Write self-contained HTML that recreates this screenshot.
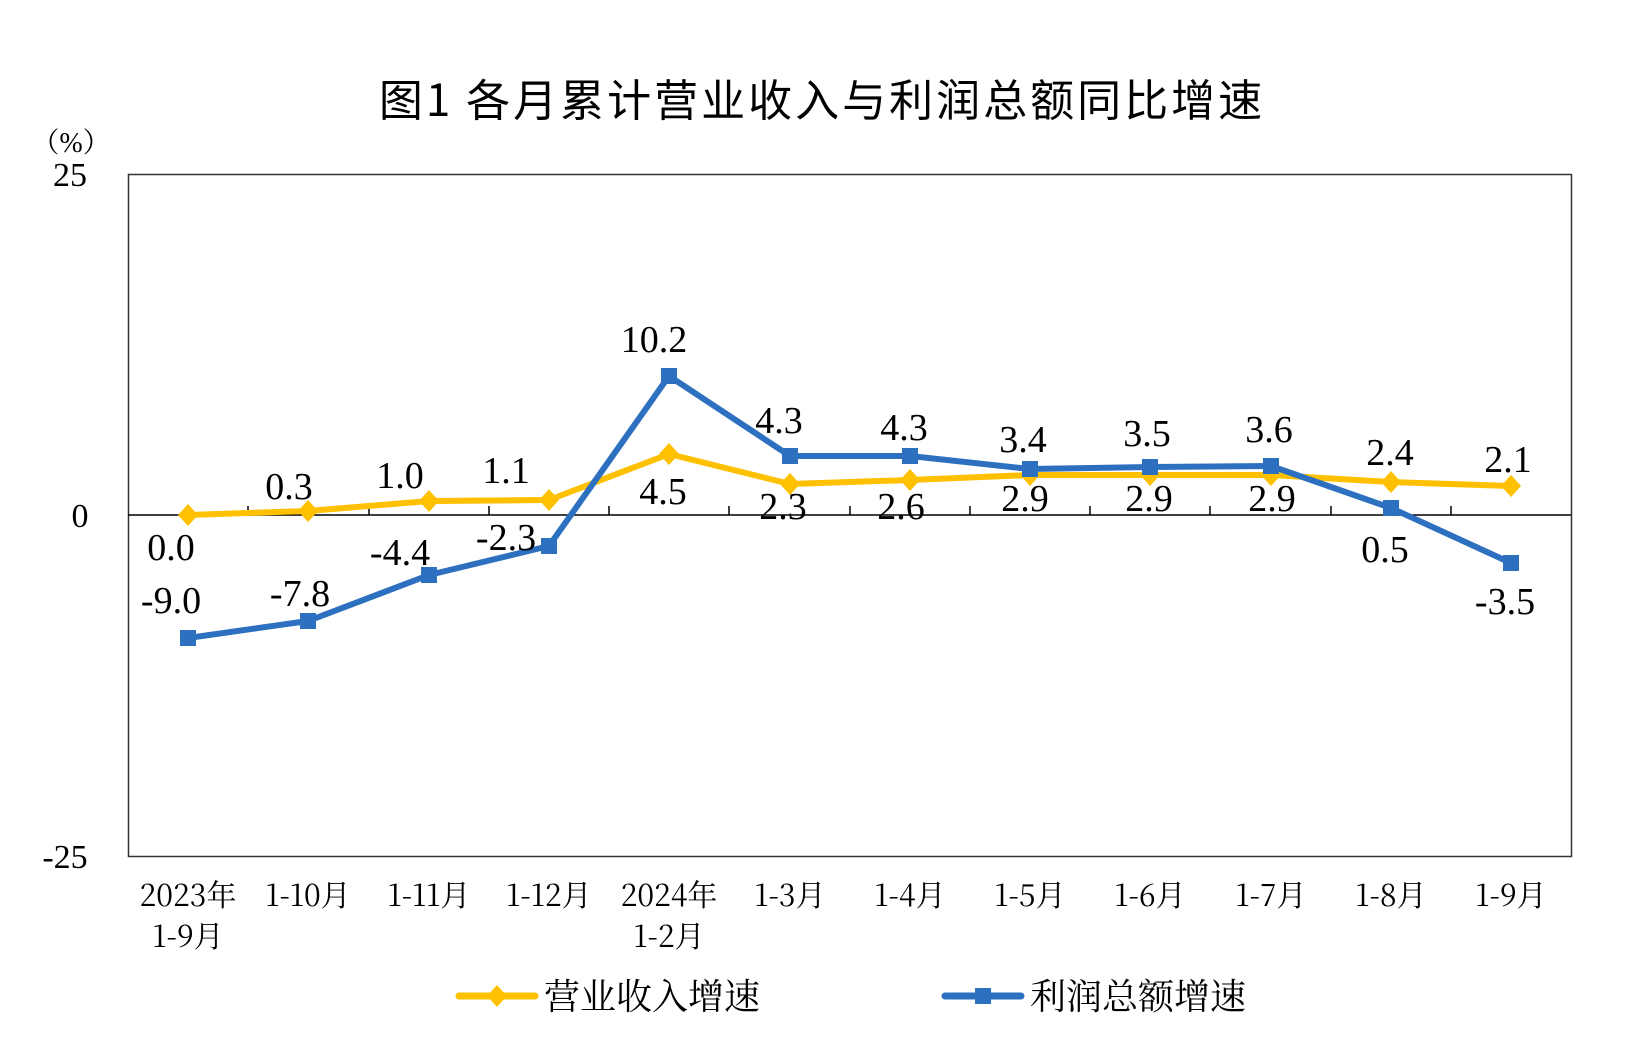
<!DOCTYPE html>
<html><head><meta charset="utf-8"><style>
html,body{margin:0;padding:0;background:#fff;}
svg{display:block;}
.t{font-family:"Liberation Serif","Noto Serif CJK SC",serif;fill:#000;}
.c{font-family:"Noto Serif CJK SC","Liberation Serif",serif;fill:#000;}
</style></head><body>
<svg width="1647" height="1038" viewBox="0 0 1647 1038" xmlns="http://www.w3.org/2000/svg">
<text x="822" y="116" text-anchor="middle" font-family="'Noto Sans CJK SC','Liberation Sans',sans-serif" font-size="44" font-weight="400" letter-spacing="3">图1  各月累计营业收入与利润总额同比增速</text>
<text class="t" x="71" y="152" text-anchor="middle" font-size="28">（%）</text>
<text class="t" x="70" y="186" text-anchor="middle" font-size="34">25</text>
<text class="t" x="80" y="527" text-anchor="middle" font-size="34">0</text>
<text class="t" x="65" y="868" text-anchor="middle" font-size="34">-25</text>
<rect x="128.5" y="174.5" width="1443" height="682" fill="none" stroke="#333" stroke-width="1.5"/>
<g stroke="#000" stroke-width="1.5">
<line x1="128" y1="515" x2="1571" y2="515"/>
<line x1="248" y1="506" x2="248" y2="515"/><line x1="369" y1="506" x2="369" y2="515"/><line x1="489" y1="506" x2="489" y2="515"/><line x1="609" y1="506" x2="609" y2="515"/><line x1="729" y1="506" x2="729" y2="515"/><line x1="850" y1="506" x2="850" y2="515"/><line x1="970" y1="506" x2="970" y2="515"/><line x1="1090" y1="506" x2="1090" y2="515"/><line x1="1210" y1="506" x2="1210" y2="515"/><line x1="1331" y1="506" x2="1331" y2="515"/><line x1="1451" y1="506" x2="1451" y2="515"/>
</g>
<polyline fill="none" stroke="#FFC000" stroke-width="6" stroke-linejoin="round" points="188,515 308,511 429,501 549,500 669,454 790,484 910,480 1030,475 1150,475 1271,475 1391,482 1511,486"/>
<g fill="#FFC000">
<path d="M188,504 l10,11 -10,11 -10,-11z"/><path d="M308,500 l10,11 -10,11 -10,-11z"/><path d="M429,490 l10,11 -10,11 -10,-11z"/><path d="M549,489 l10,11 -10,11 -10,-11z"/><path d="M669,443 l10,11 -10,11 -10,-11z"/><path d="M790,473 l10,11 -10,11 -10,-11z"/><path d="M910,469 l10,11 -10,11 -10,-11z"/><path d="M1030,464 l10,11 -10,11 -10,-11z"/><path d="M1150,464 l10,11 -10,11 -10,-11z"/><path d="M1271,464 l10,11 -10,11 -10,-11z"/><path d="M1391,471 l10,11 -10,11 -10,-11z"/><path d="M1511,475 l10,11 -10,11 -10,-11z"/>
</g>
<polyline fill="none" stroke="#2E70C0" stroke-width="6" stroke-linejoin="round" points="188,638 308,621 429,575 549,546 669,376 790,456 910,456 1030,469 1150,467 1271,466 1391,508 1511,563"/>
<g fill="#2E70C0">
<rect x="180" y="630" width="16" height="16"/><rect x="300" y="613" width="16" height="16"/><rect x="421" y="567" width="16" height="16"/><rect x="541" y="538" width="16" height="16"/><rect x="661" y="368" width="16" height="16"/><rect x="782" y="448" width="16" height="16"/><rect x="902" y="448" width="16" height="16"/><rect x="1022" y="461" width="16" height="16"/><rect x="1142" y="459" width="16" height="16"/><rect x="1263" y="458" width="16" height="16"/><rect x="1383" y="500" width="16" height="16"/><rect x="1503" y="555" width="16" height="16"/>
</g>
<g class="t" font-size="38" text-anchor="middle">
<text x="171" y="560">0.0</text><text x="289" y="499">0.3</text><text x="400" y="488">1.0</text><text x="506" y="483">1.1</text><text x="663" y="504">4.5</text><text x="783" y="519">2.3</text><text x="901" y="519">2.6</text><text x="1025" y="511">2.9</text><text x="1149" y="511">2.9</text><text x="1272" y="511">2.9</text><text x="1390" y="465">2.4</text><text x="1508" y="472">2.1</text>
<text x="171" y="613">-9.0</text><text x="300" y="606">-7.8</text><text x="400" y="565">-4.4</text><text x="506" y="550">-2.3</text><text x="654" y="352">10.2</text><text x="779" y="433">4.3</text><text x="904" y="440">4.3</text><text x="1023" y="452">3.4</text><text x="1147" y="446">3.5</text><text x="1269" y="442">3.6</text><text x="1385" y="562">0.5</text><text x="1505" y="614">-3.5</text>
</g>
<g class="c" font-size="30" text-anchor="middle">
<text x="188" y="906">2023年</text><text x="188" y="947">1-9月</text>
<text x="308" y="906">1-10月</text><text x="429" y="906">1-11月</text><text x="549" y="906">1-12月</text>
<text x="669" y="906">2024年</text><text x="669" y="947">1-2月</text>
<text x="790" y="906">1-3月</text><text x="910" y="906">1-4月</text><text x="1030" y="906">1-5月</text><text x="1150" y="906">1-6月</text><text x="1271" y="906">1-7月</text><text x="1391" y="906">1-8月</text><text x="1511" y="906">1-9月</text>
</g>
<line x1="459" y1="996" x2="535" y2="996" stroke="#FFC000" stroke-width="7" stroke-linecap="round"/>
<path d="M497,985 l10,11 -10,11 -10,-11z" fill="#FFC000"/>
<text class="c" x="544" y="1009" font-size="36">营业收入增速</text>
<line x1="945" y1="996" x2="1021" y2="996" stroke="#2E70C0" stroke-width="7" stroke-linecap="round"/>
<rect x="975" y="988" width="16" height="16" fill="#2E70C0"/>
<text class="c" x="1030" y="1009" font-size="36">利润总额增速</text>
</svg>
</body></html>
